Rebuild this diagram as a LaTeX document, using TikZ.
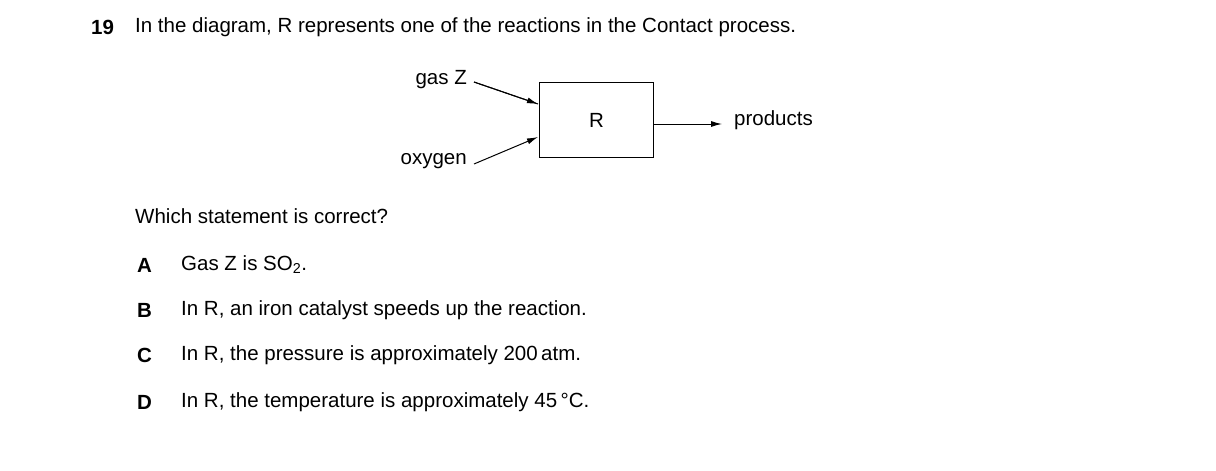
\documentclass[tikz,border=0pt]{standalone}
\usepackage{fontspec}
\setmainfont{Liberation Sans}
\usetikzlibrary{arrows.meta}
\begin{document}
\begin{tikzpicture}[x=1pt,y=-1pt,
  txt/.style={inner sep=0pt,font=\fontsize{20.5}{24}\selectfont},
  arr/.style={line width=1pt,-{Latex[length=11pt,width=6pt]}}]
\useasboundingbox (0,0) rectangle (1216,471);
\node[txt,anchor=west] (num) at (91,27) {\textbf{19}};
\node[txt,anchor=west] (q) at (135,27) {In the diagram, R represents one of the reactions in the Contact process.};
\node[draw,line width=1pt,minimum width=114pt,minimum height=75pt,anchor=north west] (R) at (539,82) {};
\node[txt] at (R.center) {R};
\node[txt,anchor=east] (z) at (467,80) {gas Z};
\node[txt,anchor=east] (o) at (467,161) {oxygen};
\node[txt,anchor=west] (p) at (734,120) {products};
\coordinate (zs) at (474,82);
\coordinate (ze) at (538,104);
\coordinate (os) at (474,164);
\coordinate (oe) at (538,137);
\coordinate (pe) at (722,124);
\draw[line width=1pt] (zs) -- (ze);
\draw[arr] (zs) -- (ze);
\draw[arr] (os) -- (oe);
\draw[arr] (R.east |- pe) -- (pe);
\node[txt,anchor=west] (w) at (135,216) {Which statement is correct?};
\node[txt,anchor=west] (a) at (137,265) {\textbf{A}};
\node[txt,anchor=west] (at) at (181,265) {Gas Z is SO\textsubscript{2}.};
\node[txt,anchor=west] (b) at (137,310) {\textbf{B}};
\node[txt,anchor=west] (bt) at (181,310) {In R, an iron catalyst speeds up the reaction.};
\node[txt,anchor=west] (c) at (137,355) {\textbf{C}};
\node[txt,anchor=west] (ct) at (181,355) {In R, the pressure is approximately 200\,atm.};
\node[txt,anchor=west] (d) at (137,402) {\textbf{D}};
\node[txt,anchor=west] (dt) at (181,402) {In R, the temperature is approximately 45\,°C.};
\end{tikzpicture}
\end{document}
